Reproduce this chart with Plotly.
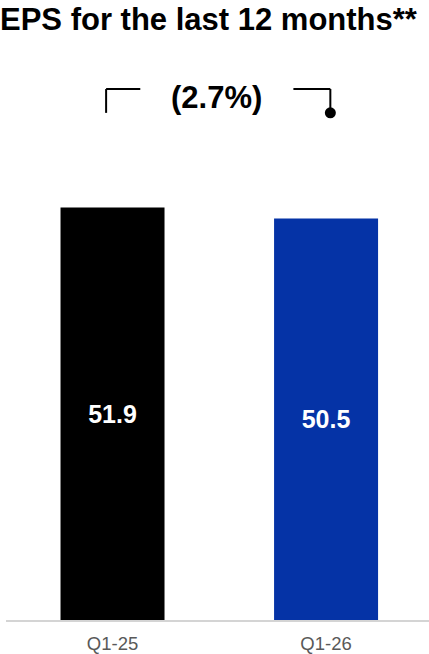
import plotly.graph_objects as go

# Trailing twelve-month EPS by quarter
categories = ["Q1-25", "Q1-26"]
eps_values = [51.9, 50.5]
bar_colors = ["#000000", "#0533A6"]

title_text = "EPS for the last 12 months**"

# Year-over-year change shown in the bracket, negative values in parentheses
change_pct = (eps_values[1] - eps_values[0]) / eps_values[0] * 100
change_label = f"({abs(change_pct):.1f}%)" if change_pct < 0 else f"{change_pct:.1f}%"

x_pos = list(range(len(categories)))
FONT = "Liberation Sans, Arial, sans-serif"

fig = go.Figure()
fig.add_trace(go.Bar(
    x=x_pos,
    y=eps_values,
    width=0.487,
    marker=dict(color=bar_colors, line=dict(width=0)),
    texttemplate="%{y:.1f}",
    textposition="inside",
    insidetextanchor="middle",
    textfont=dict(family=FONT, size=25, color="white", weight="bold"),
    hoverinfo="skip",
))

# Bracket linking the two bars, with the change label in its gap
y_top, y_bottom = 66.8, 63.8
left_x, right_x = x_pos[0] - 0.03, x_pos[1] + 0.02
line_style = dict(color="black", width=2)
fig.add_shape(type="line", x0=left_x, x1=left_x, y0=y_bottom, y1=y_top, line=line_style)
fig.add_shape(type="line", x0=left_x, x1=left_x + 0.16, y0=y_top, y1=y_top, line=line_style)
fig.add_shape(type="line", x0=right_x - 0.173, x1=right_x, y0=y_top, y1=y_top, line=line_style)
fig.add_shape(type="line", x0=right_x, x1=right_x, y0=y_top, y1=y_bottom, line=line_style)
fig.add_trace(go.Scatter(
    x=[right_x], y=[y_bottom], mode="markers",
    marker=dict(size=11, color="black"), hoverinfo="skip", cliponaxis=False,
))
fig.add_annotation(
    x=(x_pos[0] + x_pos[1]) / 2 - 0.015, y=(y_top + y_bottom) / 2 + 0.4,
    text=f"<b>{change_label}</b>", showarrow=False,
    font=dict(family=FONT, size=31, color="black"),
    xanchor="center", yanchor="middle",
)

fig.update_layout(
    width=429, height=654,
    margin=dict(l=6, r=0, t=0, b=34),
    paper_bgcolor="white", plot_bgcolor="white",
    showlegend=False,
    title=dict(
        text=f"<b>{title_text}</b>",
        font=dict(family=FONT, size=31, color="black"),
        xref="container", x=0.0, xanchor="left",
        yref="container", y=1 - 19 / 654, yanchor="middle",
        pad=dict(l=0, t=0, b=0, r=0),
    ),
    xaxis=dict(
        range=[-0.4988, 1.482],
        tickvals=x_pos, ticktext=categories,
        showgrid=False, zeroline=False,
        showline=True, linecolor="#d4d4d4", linewidth=1.5,
        ticks="", ticklabelstandoff=6,
        tickfont=dict(family=FONT, size=18.5, color="#595959"),
        fixedrange=True,
    ),
    yaxis=dict(
        range=[0, 78], visible=False, showgrid=False, zeroline=False,
        fixedrange=True,
    ),
)

fig.write_html("out.html")
